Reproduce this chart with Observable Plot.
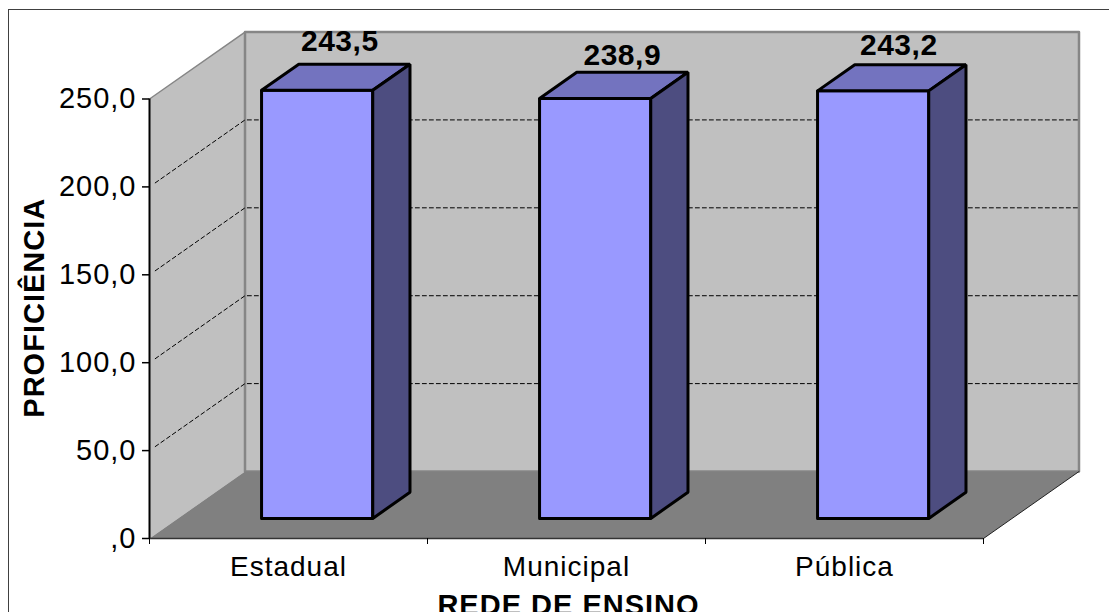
<!DOCTYPE html>
<html lang="pt">
<head>
<meta charset="utf-8">
<title>Proficiência por rede de ensino</title>
<script src="https://cdn.jsdelivr.net/npm/d3@7"></script>
<script src="https://cdn.jsdelivr.net/npm/@observablehq/plot@0.6"></script>
<style>
html,body{margin:0;padding:0;background:#fff;overflow:hidden}
#chart{position:relative;width:1109px;height:612px;overflow:hidden}
#chart svg{position:absolute;left:0;top:0;display:block;max-width:none}
#chart svg text{letter-spacing:1px}
#chart svg .lab text, #chart svg text.lab{letter-spacing:.5px}
#border{position:absolute;left:8px;top:9px;right:-4px;bottom:-4px;border:1.5px solid #404040}
</style>
</head>
<body>
<div id="chart"><div id="border"></div></div>
<script>
const categories = ["Estadual", "Municipal", "Pública"];
const values = [243.5, 238.9, 243.2];
const labels = ["243,5", "238,9", "243,2"];
const yTicks = [0, 50, 100, 150, 200, 250];
const gridValues = [50, 100, 150, 200];
const xTitle = "REDE DE ENSINO";
const yTitle = "PROFICIÊNCIA";

const yMax = 250, nCat = categories.length;
// oblique projection of the 3D box, expressed in data units per unit of depth
const shearX = 0.3435, shearY = 38.1;
const P = (c, v, z) => ({x: c + z * shearX, y: v + z * shearY});
const poly = pts => [...pts, pts[0]].map(([c, v, z]) => P(c, v, z));

const barL = 0.3, barR = 0.7, barZ0 = 0.3, barZ1 = 0.69;
const faces = which => values.flatMap((v, i) => {
  const l = i + barL, r = i + barR;
  const f = {
    front: [[l,0,barZ0],[r,0,barZ0],[r,v,barZ0],[l,v,barZ0]],
    top:   [[l,v,barZ0],[r,v,barZ0],[r,v,barZ1],[l,v,barZ1]],
    side:  [[r,0,barZ0],[r,0,barZ1],[r,v,barZ1],[r,v,barZ0]]
  }[which];
  return poly(f).map(p => ({...p, bar: categories[i]}));
});
const face = (which, fill) => Plot.line(faces(which), {
  x: "x", y: "y", z: "bar", fill, stroke: "#000", strokeWidth: 3,
  strokeLinejoin: "miter", curve: "linear"
});
const outline = (pts, o) => Plot.line(poly(pts), {x: "x", y: "y", curve: "linear", ...o});
const seg = (a, b, o) => Plot.line([P(...a), P(...b)], {x: "x", y: "y", ...o});

const grid = gridValues.map(v => Plot.line(
  [P(0, v, 0.06), P(0, v, 1), P(nCat, v, 1)],
  {x: "x", y: "y", stroke: "#000", strokeWidth: 1, strokeDasharray: "4,3"}
));

// per-bar placement of the data label relative to the top of its box
const labelNudge = [[4, -13], [8.5, -7], [7, -10]];

const plot = Plot.plot({
  width: 1109, height: 612,
  marginLeft: 149, marginRight: 126, marginTop: 98.5, marginBottom: 74,
  style: {background: "transparent", fontFamily: "'Liberation Sans', Arial, sans-serif", color: "#000", overflow: "hidden"},
  x: {domain: [0, nCat], axis: null},
  y: {domain: [0, yMax], axis: null},
  marks: [
    // walls and floor
    outline([[0,0,0],[0,yMax,0],[0,yMax,1],[0,0,1]], {fill: "#c0c0c0"}),
    outline([[0,0,1],[nCat,0,1],[nCat,yMax,1],[0,yMax,1]], {fill: "#c0c0c0", stroke: "#868686", strokeWidth: 2.5}),
    outline([[0,0,0],[nCat,0,0],[nCat,0,1],[0,0,1]], {fill: "#808080"}),
    seg([0,yMax,0],[0,yMax,1], {stroke: "#868686", strokeWidth: 1.5}),
    seg([nCat,0,0],[nCat,0,1], {stroke: "#222", strokeWidth: 1}),
    ...grid,
    // bars
    face("front", "#9999ff"),
    face("top", "#7373bf"),
    face("side", "#4d4d80"),
    // axes
    Plot.ruleY([0], {x1: 0, x2: nCat, stroke: "#333", strokeWidth: 1.5}),
    Plot.ruleX([0], {y1: 0, y2: yMax, stroke: "#000", strokeWidth: 2}),
    Plot.axisY({
      ticks: yTicks, tickSize: 7, tickPadding: 6, fontSize: 29, stroke: "#000", strokeWidth: 1.5,
      tickFormat: d => d === 0 ? ",0" : d3.format(".1f")(d).replace(".", ","), label: null
    }),
    Plot.axisX({ticks: d3.range(nCat + 1), tickSize: 6, tickFormat: () => "", label: null, stroke: "#000", strokeWidth: 1}),
    Plot.axisX({
      ticks: categories.map((_, i) => i + 0.5), tickSize: 0, tickPadding: 18, fontSize: 28,
      tickFormat: d => categories[Math.floor(d)], label: null
    }),
    // data labels
    ...values.map((v, i) => {
      const mid = P(i + 0.5, v, (barZ0 + barZ1) / 2), back = P(i + 0.5, v, barZ1);
      return Plot.text([{x: mid.x, y: back.y}], {
        x: "x", y: "y", text: () => labels[i], fontSize: 30, fontWeight: "bold", fill: "#000",
        lineAnchor: "bottom", dx: labelNudge[i][0], dy: labelNudge[i][1], className: "lab"
      });
    }),
    // axis titles
    Plot.text([xTitle], {frameAnchor: "bottom", dx: 2, dy: 76, fontSize: 29, fontWeight: "bold", lineAnchor: "bottom"}),
    Plot.text([yTitle], {frameAnchor: "left", textAnchor: "middle", dx: -126, dy: -11, fontSize: 29, fontWeight: "bold", rotate: -90, lineAnchor: "top"})
  ]
});
document.getElementById("chart").appendChild(plot);
</script>
</body>
</html>
